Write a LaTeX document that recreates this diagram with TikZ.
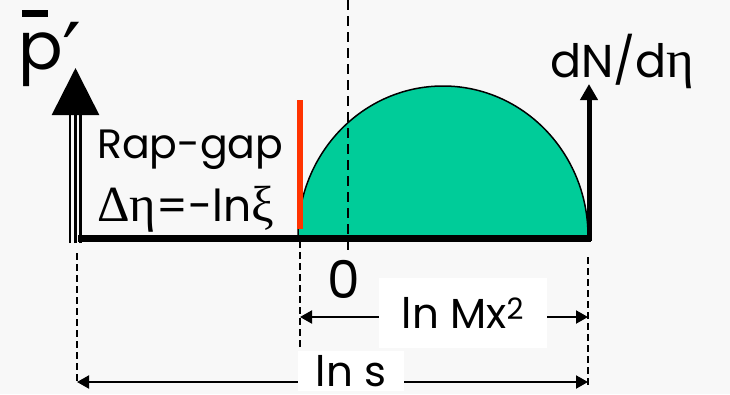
\documentclass[tikz,border=0pt]{standalone}
\usepackage{fontspec}
\setmainfont{Poppins}
\newfontfamily\gk[Scale=1.15]{Liberation Serif}
\newfontfamily\primefont{DejaVu Sans}
\usetikzlibrary{arrows.meta}
\definecolor{bgpaper}{HTML}{F8F8F8}
\definecolor{humpgreen}{HTML}{00CC99}
\definecolor{gapred}{HTML}{FF3300}

\begin{document}
\begin{tikzpicture}[x=1pt,y=-1pt,
  lbl/.style={font=\fontsize{46}{50}\selectfont,inner sep=0pt},
  guide/.style={line width=1.5pt,dash pattern=on 7pt off 4pt},
  dim/.style={{Triangle[length=12pt,width=13pt]}-{Triangle[length=12pt,width=13pt]},line width=2pt},
  tag/.style={font=\fontsize{42}{46}\selectfont,inner sep=0pt,fill=white}]
\fill[bgpaper] (0,0) rectangle (730,394);
\useasboundingbox (0,0) rectangle (730,394);
% key points on the axis
\coordinate (ls) at (78,238);
\coordinate (rs) at (591,238);
\coordinate (lax) at (75.5,243);
\coordinate (lbase) at (75.5,115);
\coordinate (ltop) at (75.5,68);
\coordinate (rbot) at (589,241);
\coordinate (rtop) at (589,84);
% rapidity distribution
\filldraw[fill=humpgreen,draw=black,line width=1.5pt] (298,236) arc[start angle=180,end angle=0,x radius=145pt,y radius=150pt];
\draw[line width=7pt] (ls) -- (rs);
\draw[gapred,line width=5.5pt] (300,100) -- (300,229);
\draw[line width=2pt,dash pattern=on 10pt off 6pt] (347.5,0) -- (347.5,256);
% axes
\foreach \dx in {-5.5,5}
  \draw[line width=2.6pt] ([xshift=\dx pt]lax) -- ([xshift=\dx pt]lbase);
\draw[-{Triangle[length=47pt,width=47pt]},line width=2.6pt] (lax) -- (ltop);
\draw[-{Triangle[length=16pt,width=17pt]},line width=5pt] (rbot) -- (rtop);
% guides and widths
\coordinate (g1t) at (77,253);  \coordinate (g1b) at (77,383);
\coordinate (g2t) at (300,241); \coordinate (g2b) at (300,360);
\coordinate (g3t) at (588,257); \coordinate (g3b) at (588,385);
\draw[guide] (g1t) -- (g1b);
\draw[guide] (g2t) -- (g2b);
\draw[guide] (g3t) -- (g3b);
\draw[dim] (300,317) coordinate (mxl) -- (588,317) coordinate (mxr);
\draw[dim] (77,382) coordinate (lsl) -- (588,382) coordinate (lsr);
\node[tag,minimum width=168pt,minimum height=70pt] (mx) at (463,313) {ln Mx\textsuperscript{2}};
\node[tag,minimum width=106pt,minimum height=40pt] (lns) at (351,371) {ln s};
% labels
\node[font=\fontsize{66}{66}\selectfont,inner sep=0pt,anchor=base west] (pbar) at (18,69)
  {\rlap{\hspace{4pt}\raisebox{52pt}{\rule{26pt}{7pt}}}p\raisebox{-14pt}{\primefont\fontsize{84}{84}\selectfont ′}};
\node[lbl,font=\fontsize{41}{45}\selectfont,anchor=base west] (rap) at (97,158) {Rap-gap};
\node[lbl,font=\fontsize{44}{48}\selectfont,anchor=base west] (deta) at (97,221) {{\gk Δη}=-ln{\gk ξ}};
\node[lbl,anchor=base west] (dndeta) at (550,77) {dN/d{\gk η}};
\node[font=\fontsize{52}{56}\selectfont,inner sep=0pt,anchor=base] (zlbl) at (344,298) {0};
\end{tikzpicture}
\end{document}
